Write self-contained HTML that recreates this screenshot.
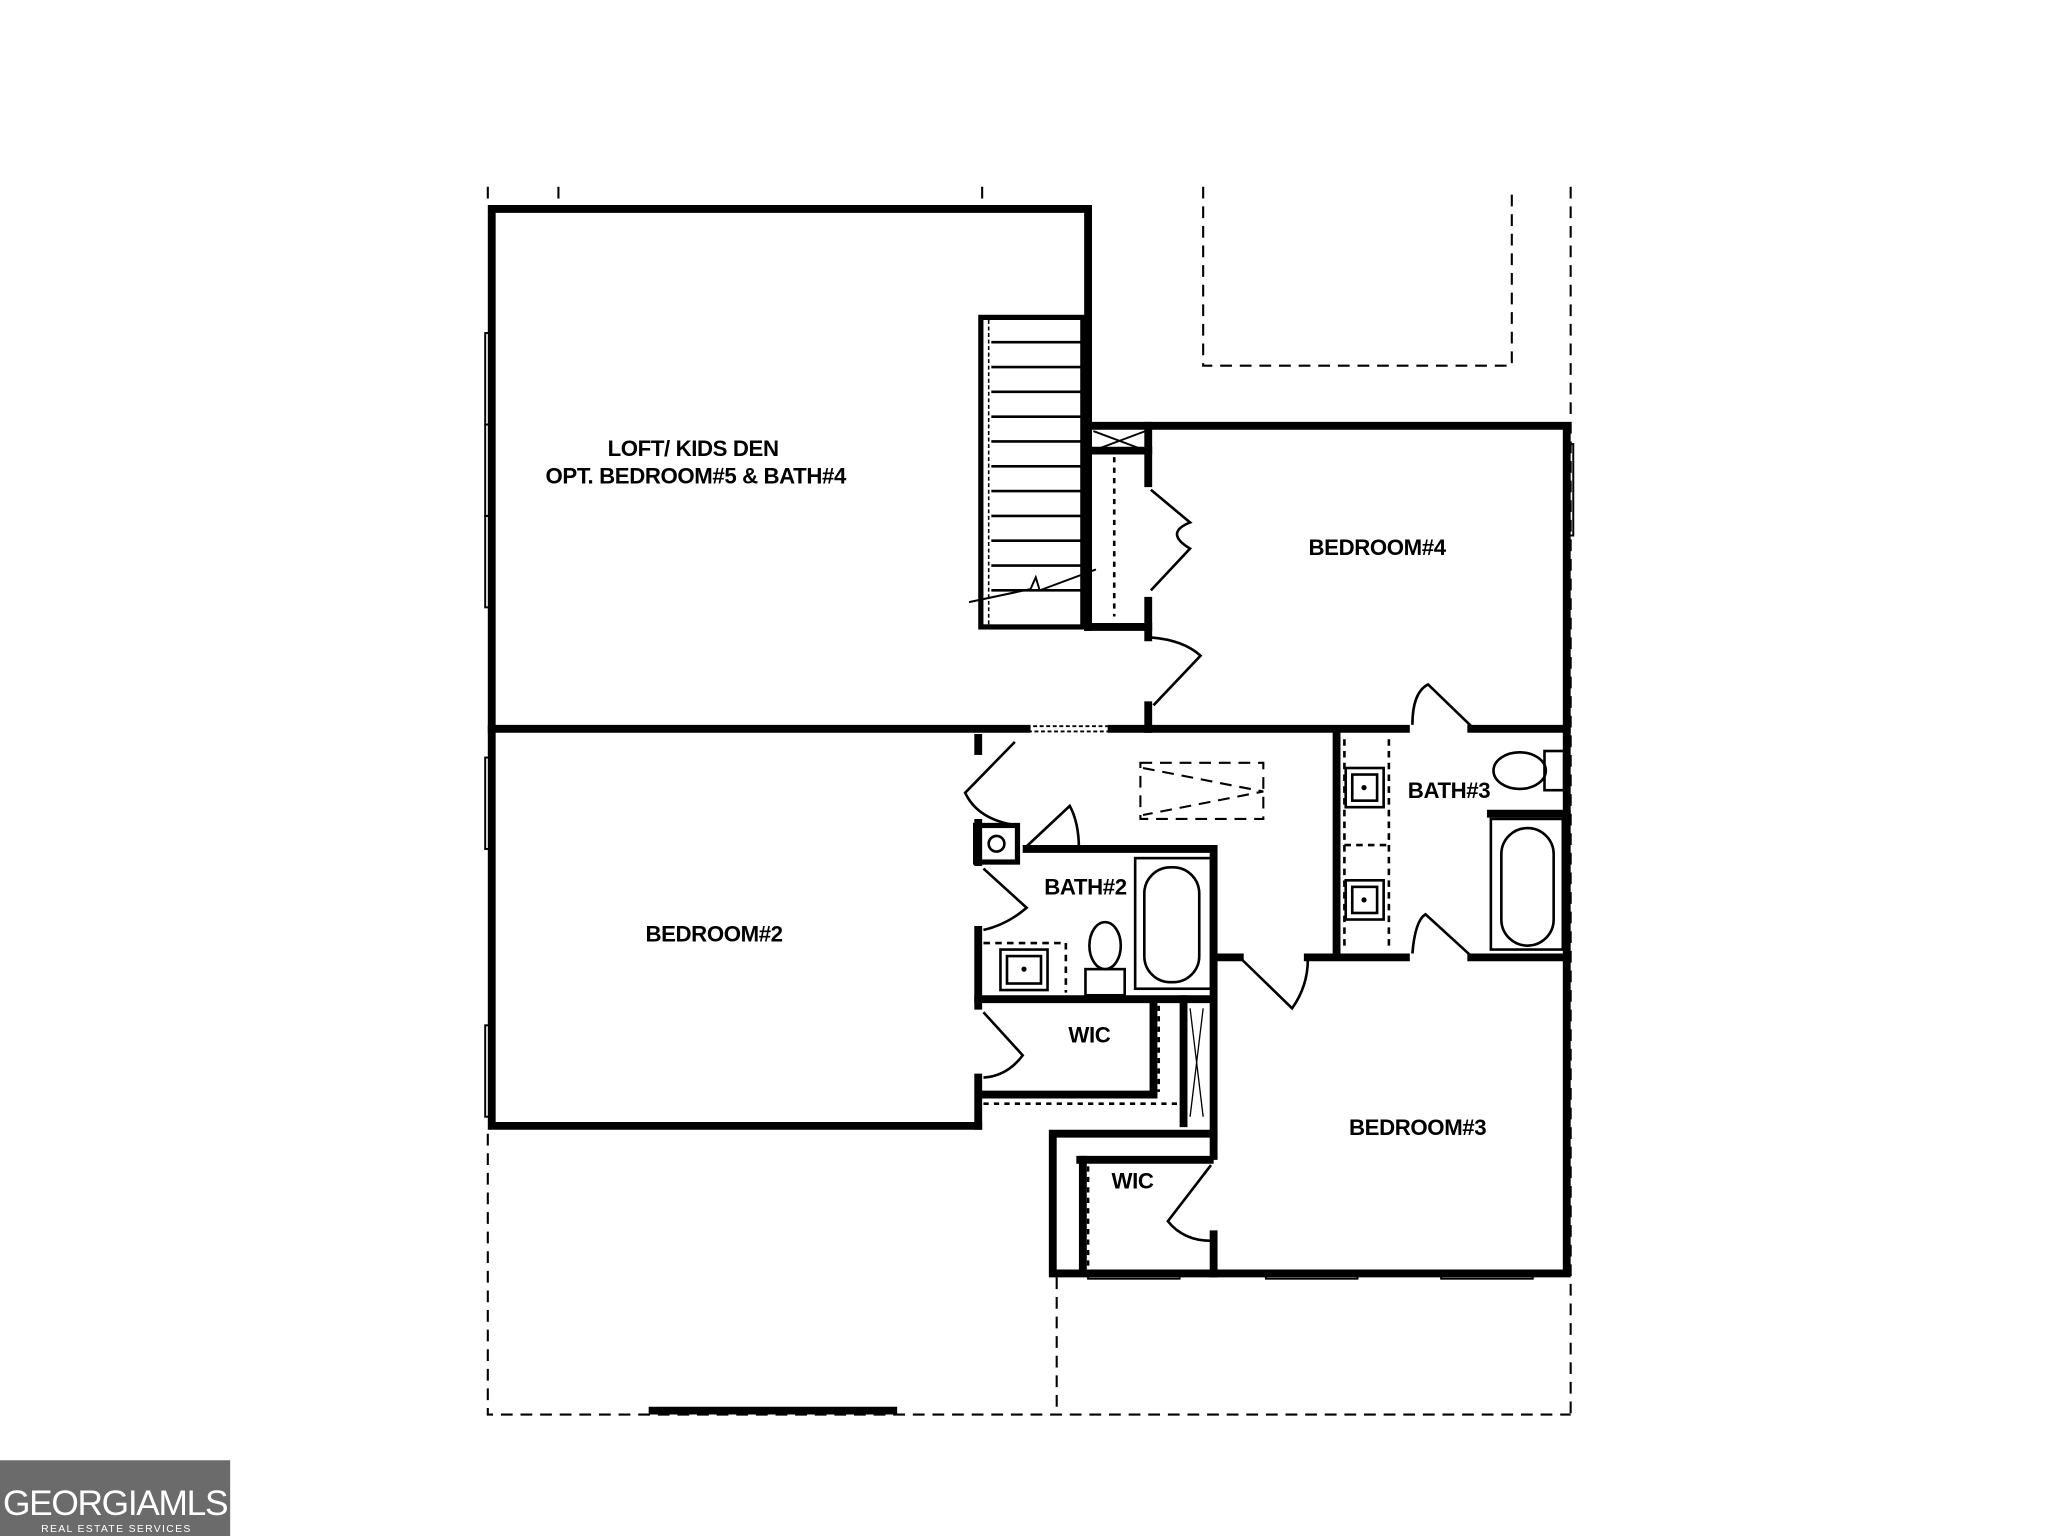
<!DOCTYPE html>
<html><head><meta charset="utf-8"><style>
html,body{margin:0;padding:0;background:#fff;}
svg{display:block;}
text{font-family:"Liberation Sans",sans-serif;font-weight:bold;fill:#000;}
</style></head><body>
<svg width="2048" height="1536" viewBox="0 0 1566 1176" preserveAspectRatio="none" xmlns="http://www.w3.org/2000/svg">
<rect width="1566" height="1176" fill="#fff"/>
<g stroke="#000" stroke-width="1.6" fill="none" stroke-dasharray="9,6">
<line x1="373" y1="143" x2="373" y2="158"/>
<line x1="427" y1="143" x2="427" y2="156"/>
<line x1="751" y1="143" x2="751" y2="156"/>
<line x1="1201" y1="143" x2="1201" y2="1083"/>
<polyline points="920,143 920,280 1156,280 1156,143"/>
<polyline points="373,868 373,1083 1201,1083"/>
<line x1="808" y1="978" x2="808" y2="1083"/>
<rect x="872" y="584" width="94" height="43"/>
<polyline points="874,588 966,606 874,624"/>
</g>
<g stroke="#000" stroke-width="6" fill="none" stroke-linecap="square">
<polyline points="832,480 832,160 376,160 376,862 748,862"/>
<polyline points="832,326 1198,326 1198,975 805,975 805,868 925,868"/>
<line x1="376" y1="558" x2="785" y2="558"/>
<line x1="850" y1="558" x2="878" y2="558"/>
<line x1="878" y1="558" x2="1075" y2="558"/>
<line x1="1125" y1="558" x2="1198" y2="558"/>
<line x1="878" y1="326" x2="878" y2="370"/>
<line x1="878" y1="460" x2="878" y2="488"/>
<line x1="878" y1="540" x2="878" y2="558"/>
<line x1="832" y1="480" x2="878" y2="480"/>
<line x1="832" y1="345" x2="878" y2="345"/>
<line x1="748" y1="565" x2="748" y2="575"/>
<line x1="748" y1="630" x2="748" y2="660"/>
<line x1="748" y1="712" x2="748" y2="770"/>
<line x1="748" y1="825" x2="748" y2="862"/>
<polyline points="785,650 928,650 928,868"/>
<line x1="748" y1="765" x2="925" y2="765"/>
<line x1="882" y1="770" x2="882" y2="838"/>
<line x1="752" y1="838" x2="882" y2="838"/>
<line x1="905" y1="765" x2="905" y2="860"/>
<line x1="1022" y1="563" x2="1022" y2="730"/>
<line x1="930" y1="733" x2="948" y2="733"/>
<line x1="1000" y1="733" x2="1075" y2="733"/>
<line x1="1125" y1="733" x2="1198" y2="733"/>
<line x1="1140" y1="623" x2="1198" y2="623"/>
<line x1="928" y1="868" x2="928" y2="885"/>
<line x1="928" y1="945" x2="928" y2="975"/>
<line x1="826" y1="888" x2="925" y2="888"/>
<line x1="828" y1="888" x2="828" y2="970"/>
<line x1="499" y1="1080" x2="683" y2="1080"/>
</g>
<g stroke="#000" fill="none">
<rect x="750" y="243" width="78" height="237" stroke-width="4"/>
<line x1="756" y1="245" x2="756" y2="478" stroke-width="1.2" stroke-dasharray="3,2"/>
<g stroke-width="2">
<line x1="758" y1="262" x2="828" y2="262"/><line x1="758" y1="281" x2="828" y2="281"/><line x1="758" y1="300" x2="828" y2="300"/><line x1="758" y1="319" x2="828" y2="319"/><line x1="758" y1="338" x2="828" y2="338"/><line x1="758" y1="357" x2="828" y2="357"/><line x1="758" y1="376" x2="828" y2="376"/><line x1="758" y1="395" x2="828" y2="395"/><line x1="758" y1="414" x2="828" y2="414"/><line x1="758" y1="433" x2="828" y2="433"/><line x1="758" y1="452" x2="828" y2="452"/>
</g>
<polyline points="741,461 788,451 792,442 795,452 838,436" stroke-width="1.5"/>
<line x1="852" y1="350" x2="852" y2="472" stroke-width="2" stroke-dasharray="4,4"/>
<path d="M836,330 L876,345 M876,330 L836,345" stroke-width="1.5"/>
<g stroke-width="2">
<path d="M880,375 L910,400 Q890,408 910,420 L880,452"/>
<path d="M880,488 Q905,490 918,502 L882,540"/>
<path d="M1080,555 Q1080,530 1092,524 L1125,556"/>
<path d="M776,568 L738,607 Q748,628 778,632"/>
<path d="M785,648 L818,617 Q825,630 825,650"/>
<path d="M752,665 L785,695 Q770,708 752,712"/>
<path d="M950,735 L988,772 Q1000,755 1000,735"/>
<path d="M1080,730 Q1082,705 1090,700 L1125,732"/>
<path d="M752,775 L782,808 Q770,824 752,825"/>
<path d="M926,892 L893,935 Q905,950 926,950"/>
</g>
<g stroke-width="2">
<rect x="1029" y="588" width="29" height="30"/><rect x="1034" y="593" width="19" height="20"/>
<rect x="1029" y="674" width="29" height="30"/><rect x="1034" y="679" width="19" height="20"/>
<line x1="1028" y1="566" x2="1028" y2="728" stroke-dasharray="5,4"/>
<line x1="1062" y1="566" x2="1062" y2="728" stroke-dasharray="5,4"/>
<line x1="1028" y1="647" x2="1062" y2="647" stroke-dasharray="5,4"/>
<rect x="1140" y="627" width="55" height="100"/>
<rect x="1148" y="634" width="40" height="90" rx="20"/>
<ellipse cx="1162" cy="590" rx="20" ry="14"/><rect x="1181" y="575" width="15" height="30"/>
<rect x="868" y="657" width="58" height="100"/>
<rect x="875" y="664" width="42" height="88" rx="20"/>
<ellipse cx="845" cy="724" rx="12" ry="18"/><rect x="830" y="742" width="30" height="20"/>
<rect x="765" y="727" width="36" height="31"/><rect x="770" y="732" width="26" height="21"/>
<line x1="752" y1="722" x2="815" y2="722" stroke-dasharray="5,4"/>
<line x1="815" y1="722" x2="815" y2="760" stroke-dasharray="5,4"/>
<rect x="746" y="632" width="32" height="28" stroke-width="4"/>
<circle cx="762" cy="646" r="6"/>
<line x1="910" y1="772" x2="920" y2="855" stroke-width="1"/><line x1="920" y1="772" x2="910" y2="855" stroke-width="1"/>
<line x1="886" y1="770" x2="886" y2="836" stroke-dasharray="4,4"/>
<line x1="752" y1="845" x2="900" y2="845" stroke-dasharray="4,4"/>
<line x1="832" y1="893" x2="832" y2="970" stroke-dasharray="4,4"/>
</g>
<g stroke-width="1.5">
<rect x="371" y="255" width="5" height="70"/><rect x="371" y="325" width="5" height="70"/><rect x="371" y="395" width="5" height="70"/>
<rect x="371" y="580" width="5" height="70"/><rect x="371" y="785" width="5" height="70"/>
<rect x="1198" y="340" width="5" height="70"/>
<rect x="832" y="975" width="70" height="4"/><rect x="968" y="975" width="70" height="4"/><rect x="1102" y="975" width="70" height="4"/>
<rect x="785" y="556" width="65" height="4" stroke-dasharray="3,2"/>
</g>
<circle cx="1043" cy="603" r="1.5" fill="#000"/><circle cx="1043" cy="689" r="1.5" fill="#000"/><circle cx="783" cy="742" r="1.5" fill="#000"/>
</g>
<g font-size="17" letter-spacing="-0.3">
<text x="530" y="349" text-anchor="middle">LOFT/ KIDS DEN</text>
<text x="532" y="370" text-anchor="middle">OPT. BEDROOM#5 &amp; BATH#4</text>
<text x="1053" y="425" text-anchor="middle">BEDROOM#4</text>
<text x="1108" y="611" text-anchor="middle">BATH#3</text>
<text x="830" y="685" text-anchor="middle">BATH#2</text>
<text x="546" y="721" text-anchor="middle">BEDROOM#2</text>
<text x="833" y="798" text-anchor="middle">WIC</text>
<text x="866" y="910" text-anchor="middle">WIC</text>
<text x="1084" y="869" text-anchor="middle">BEDROOM#3</text>
</g>
<rect x="0" y="1118" width="176" height="58" fill="#6b6b6b"/>
<text x="88" y="1160" text-anchor="middle" font-size="27" style="fill:#fff;font-weight:normal" letter-spacing="-1">GEORGIAMLS</text>
<text x="89" y="1173" text-anchor="middle" font-size="8" style="fill:#fff;font-weight:normal" letter-spacing="1">REAL ESTATE SERVICES</text>
</svg>
</body></html>
